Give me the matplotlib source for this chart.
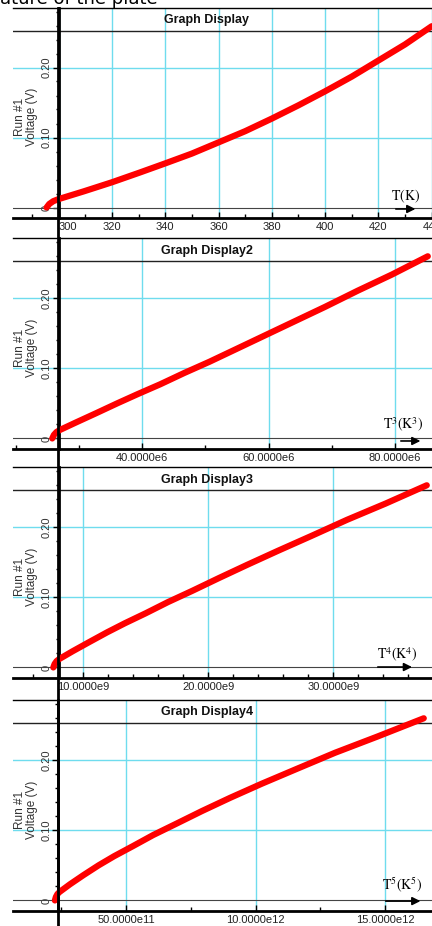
import matplotlib
matplotlib.use('Agg')
import matplotlib.pyplot as plt
from matplotlib.lines import Line2D
from matplotlib.ticker import FixedLocator, FixedFormatter, MultipleLocator

temps = [295.5, 296.5, 298, 300, 309.4, 320, 330.5, 340, 350, 360, 370, 380, 390, 400, 410, 420, 430, 440]
volts = [0.000, 0.005, 0.009, 0.012, 0.023, 0.036, 0.050, 0.063, 0.077, 0.093, 0.109, 0.127, 0.146, 0.166,
         0.187, 0.210, 0.233, 0.259]

titles = ['Graph Display', 'Graph Display2', 'Graph Display3', 'Graph Display4']
powers = [1, 3, 4, 5]
xlims = [(282.9, 440.1), (19.6e6, 85.85e6), (4.4e9, 37.9e9), (0.636e12, 16.81e12)]
spine_x = [300, 26.8e6, 8.04e9, 2.39e12]
xticks = [[300, 320, 340, 360, 380, 400, 420, 440],
          [40e6, 60e6, 80e6],
          [10e9, 20e9, 30e9],
          [5e12, 10e12, 15e12]]
xticklabels = [['300', '320', '340', '360', '380', '400', '420', '440'],
               ['40.0000e6', '60.0000e6', '80.0000e6'],
               ['10.0000e9', '20.0000e9', '30.0000e9'],
               ['50.0000e11', '10.0000e12', '15.0000e12']]
xminor = [10, 10e6, 2e9, 2.5e12]
axis_names = [r'$\mathrm{T(K)}$', r'$\mathrm{T}^{3}\mathrm{(K}^{3}\mathrm{)}$',
              r'$\mathrm{T}^{4}\mathrm{(K}^{4}\mathrm{)}$', r'$\mathrm{T}^{5}\mathrm{(K}^{5}\mathrm{)}$']
yticks = [0, 0.10, 0.20]
yticklabels = ['0', '0.10', '0.20']

# layout in pixels (top, height) and arrow / label spots in axes fraction
W, H = 432, 926
tops = [8, 238, 467, 700]
heights = [210, 211, 211, 211]
name_pos = [(0.936, 0.105), (0.931, 0.114), (0.916, 0.109), (0.928, 0.123)]
arrows = [(0.907, 0.967, 0.043), (0.919, 0.979, 0.038), (0.864, 0.959, 0.052), (0.883, 0.979, 0.047)]

plt.rcParams['font.family'] = ['Liberation Sans', 'DejaVu Sans']
plt.rcParams['mathtext.fontset'] = 'stix'

fig = plt.figure(figsize=(W / 100, H / 100), dpi=100)
fig.patch.set_facecolor('white')

# bit of the caption above the screenshot
fig.text(0.0, 1 - 3.5 / H, 'ature of the plate', fontsize=13, family='DejaVu Sans', va='baseline')

for i in range(4):
    left = 13 / W
    bottom = 1 - (tops[i] + heights[i]) / H
    ax = fig.add_axes([left, bottom, 1 - left, heights[i] / H])
    x = [t ** powers[i] for t in temps]
    ax.plot(x, volts, color='#ff0000', lw=4.5, solid_capstyle='round', zorder=3)
    ax.set_xlim(*xlims[i])
    ax.set_ylim(-0.015, 0.285)

    # grid
    for xt in xticks[i]:
        ax.axvline(xt, color='#6fdcee', lw=1, zorder=1)
    for yt in yticks[1:]:
        ax.axhline(yt, color='#6fdcee', lw=1, zorder=1)
    ax.axhline(0, color='#444444', lw=0.8, zorder=2)
    ax.axhline(0.252, color='#222222', lw=1, zorder=2)

    ax.spines['right'].set_visible(False)
    ax.spines['top'].set_linewidth(1)
    ax.spines['bottom'].set_linewidth(2)
    ax.spines['left'].set_position(('data', spine_x[i]))
    ax.spines['left'].set_linewidth(2)

    ax.xaxis.set_major_locator(FixedLocator(xticks[i]))
    ax.xaxis.set_major_formatter(FixedFormatter(xticklabels[i]))
    ax.xaxis.set_minor_locator(MultipleLocator(xminor[i]))
    ax.tick_params(axis='x', which='major', direction='in', length=4, width=1, pad=3,
                   labelsize=8, labelcolor='#222222')
    ax.tick_params(axis='x', which='minor', direction='in', length=3, width=1)
    if i == 0:
        ax.get_xticklabels()[0].set_ha('left')

    ax.yaxis.set_major_locator(FixedLocator(yticks))
    ax.yaxis.set_major_formatter(FixedFormatter(yticklabels))
    ax.yaxis.set_minor_locator(MultipleLocator(0.02))
    ax.tick_params(axis='y', which='major', direction='out', length=4, width=1, pad=1,
                   labelsize=8, labelcolor='#333333', labelrotation=90)
    ax.tick_params(axis='y', which='minor', direction='out', length=2.5, width=1)
    for lab in ax.get_yticklabels():
        lab.set_va('center')

    ax.text(0.017, 0.48, 'Run #1', transform=ax.transAxes, rotation=90, fontsize=8.5,
            color='#333333', ha='center', va='center')
    ax.text(0.046, 0.48, 'Voltage (V)', transform=ax.transAxes, rotation=90, fontsize=8.5,
            color='#333333', ha='center', va='center')

    ax.text((207 - 13) / 419, 1 - (12.5 / heights[i]), titles[i], transform=ax.transAxes,
            fontsize=9, fontweight='bold', ha='center', va='center', color='#111111')

    nx, ny = name_pos[i]
    ax.text(nx, ny, axis_names[i], transform=ax.transAxes, fontsize=10, ha='center', va='center')
    x0, x1, ay = arrows[i]
    ax.annotate('', xy=(x1, ay), xytext=(x0, ay), xycoords='axes fraction',
                arrowprops=dict(arrowstyle='-|>', color='black', lw=1.2, mutation_scale=12))

# the vertical axis line runs unbroken through all panels
fig.add_artist(Line2D([58.5 / W, 58.5 / W], [0, 1 - 8 / H], color='black', lw=2,
                      transform=fig.transFigure))

fig.savefig('out.png', dpi=100)
